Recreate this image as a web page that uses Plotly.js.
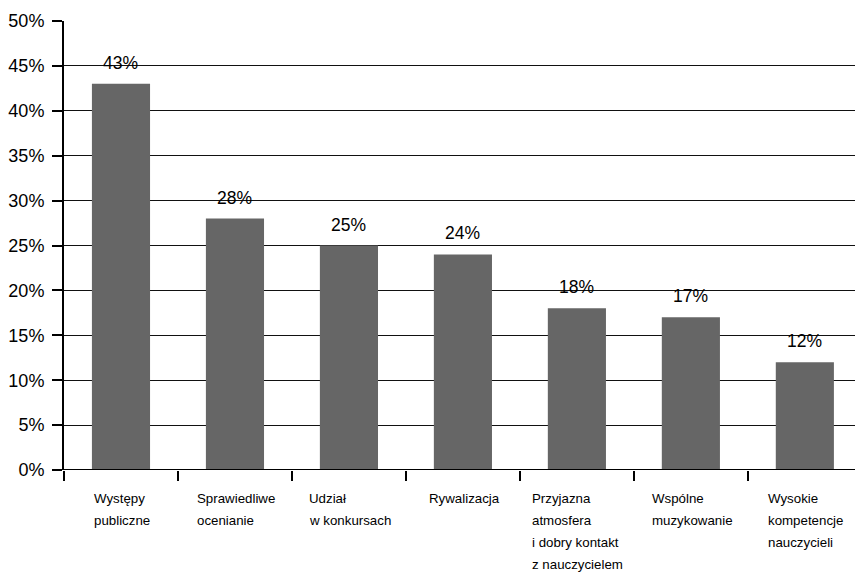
<!DOCTYPE html>
<html><head><meta charset="utf-8">
<script src="https://cdn.plot.ly/plotly-3.0.1.min.js"></script>
<style>html,body{margin:0;padding:0;background:#fff}#chart{width:856px;height:572px}</style>
</head><body><div id="chart"></div>
<script>
const categories = [
  ["Występy","publiczne"],
  ["Sprawiedliwe","ocenianie"],
  ["Udział","w konkursach"],
  ["Rywalizacja"],
  ["Przyjazna","atmosfera","i dobry kontakt","z nauczycielem"],
  ["Wspólne","muzykowanie"],
  ["Wysokie","kompetencje","nauczycieli"]
];
const values = [43, 28, 25, 24, 18, 17, 12];
const valueLabels = ["43%","28%","25%","24%","18%","17%","12%"];
const yTickVals = [0,5,10,15,20,25,30,35,40,45,50];
const yTickText = ["0%","5%","10%","15%","20%","25%","30%","35%","40%","45%","50%"];

const idx = values.map((v,i)=>i);
const boundaries = [-0.5,0.5,1.5,2.5,3.5,4.5,5.5,6.5];
const FONT = 'Liberation Sans, Arial, Helvetica, sans-serif';
const CAT_SIZE = 13.3;

const ctx = document.createElement('canvas').getContext('2d');
ctx.font = CAT_SIZE + 'px "Liberation Sans", Arial, sans-serif';

const annotations = [];
values.forEach((v,i)=>{
  annotations.push({x:i, y:v, xref:'x', yref:'y', text:valueLabels[i], showarrow:false,
    yanchor:'bottom', yshift:9, font:{family:FONT, size:17.5, color:'#000'}});
  // category label block: centred on category, text left-aligned, one annotation per line
  const lines = categories[i];
  const blockW = Math.max(...lines.map(s=>ctx.measureText(s).width));
  lines.forEach((line,j)=>{
    annotations.push({x:i, y:0, xref:'x', yref:'y', text:line, showarrow:false,
      xanchor:'left', yanchor:'top', align:'left', xshift:-blockW/2 - 1, yshift:-19 - 22*j,
      font:{family:FONT, size:CAT_SIZE, color:'#000'}});
  });
});

Plotly.newPlot('chart', [{
  type:'bar', x:idx, y:values, width:0.51,
  marker:{color:'#666666', line:{width:0}}, hoverinfo:'none'
}], {
  width:856, height:572,
  margin:{l:64, r:1, t:21, b:102, pad:0},
  paper_bgcolor:'#fff', plot_bgcolor:'#fff',
  showlegend:false,
  xaxis:{type:'linear', range:[-0.5, 6.44], tickmode:'array', tickvals:boundaries, ticktext:boundaries.map(()=>''),
    ticks:'outside', ticklen:10, tickwidth:2, tickcolor:'#000', showgrid:false, zeroline:false,
    showline:false, fixedrange:true},
  yaxis:{range:[0,50], tickmode:'array', tickvals:yTickVals, ticktext:yTickText,
    ticks:'outside', ticklen:10, tickwidth:2, tickcolor:'#000', ticklabelstandoff:4,
    showgrid:true, gridcolor:'#111', gridwidth:1, zeroline:false,
    showline:true, linecolor:'#000', linewidth:2,
    tickfont:{family:FONT, size:18, color:'#000'}},
  shapes:[{type:'line', xref:'paper', yref:'y', x0:0, x1:1, y0:0, y1:0, line:{color:'#000', width:2}}],
  annotations: annotations
}, {staticPlot:true, displayModeBar:false});
</script></body></html>
